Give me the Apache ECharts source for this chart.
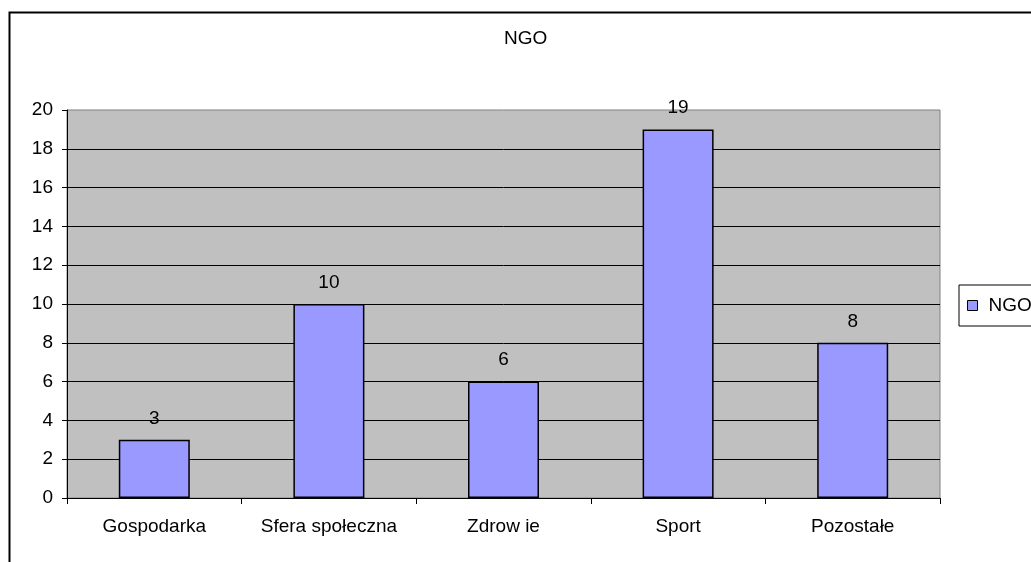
<!DOCTYPE html>
<html>
<head>
<meta charset="utf-8">
<script src="https://cdn.jsdelivr.net/npm/echarts@6/dist/echarts.min.js"></script>
<style>html,body{margin:0;padding:0;background:#fff;}#c{width:1031px;height:562px;}</style>
</head>
<body>
<div id="c"></div>
<script>
const categories = ['Gospodarka', 'Sfera społeczna', 'Zdrow ie', 'Sport', 'Pozostałe'];
const ngoValues = [3, 10, 6, 19, 8];
const seriesName = 'NGO';
const titleText = 'NGO';

const FONT = '"Liberation Sans", Arial, sans-serif';
const chart = echarts.init(document.getElementById('c'), null, {renderer: 'canvas'});
chart.setOption({
  animation: false,
  backgroundColor: '#fff',
  textStyle: {fontFamily: FONT},
  title: {
    text: titleText, left: 504, top: 29, padding: 0,
    textStyle: {fontFamily: FONT, fontSize: 19, fontWeight: 'normal', color: '#000'}
  },
  legend: {
    data: [seriesName], left: 959, top: 285, orient: 'vertical',
    padding: [11, 10, 11, 8],
    borderColor: '#000', borderWidth: 1,
    icon: 'rect', itemWidth: 10, itemHeight: 10,
    itemStyle: {borderColor: '#000', borderWidth: 1},
    textStyle: {fontFamily: FONT, fontSize: 19, color: '#000', padding: [0, 0, 0, 6]}
  },
  graphic: [{
    type: 'rect', left: 7, top: 10, z: 100, silent: true,
    shape: {x: 0, y: 0, width: 1100, height: 700},
    style: {fill: 'none', stroke: '#000', lineWidth: 2}
  }],
  grid: {
    left: 67, right: 91, top: 110, bottom: 64,
    show: true, backgroundColor: '#C0C0C0', borderColor: '#808080', borderWidth: 1
  },
  xAxis: {
    type: 'category', data: categories,
    axisLine: {lineStyle: {color: '#000', width: 1}},
    axisTick: {show: true, length: 6, lineStyle: {color: '#000'}},
    axisLabel: {interval: 0, hideOverlap: false, margin: 19, fontSize: 19, color: '#000', fontFamily: FONT}
  },
  yAxis: {
    type: 'value', min: 0, max: 20, interval: 2,
    axisLine: {show: true, lineStyle: {color: '#000', width: 1}},
    axisTick: {show: true, length: 5, lineStyle: {color: '#000'}},
    axisLabel: {margin: 14, fontSize: 19, color: '#000', fontFamily: FONT},
    splitLine: {show: true, showMaxLine: false, lineStyle: {color: '#000', width: 1}}
  },
  series: [{
    name: seriesName, type: 'bar', data: ngoValues, barWidth: 71,
    itemStyle: {color: '#9999FF', borderColor: '#000', borderWidth: 1.5},
    label: {show: true, position: 'top', distance: 12, fontSize: 19, color: '#000', fontFamily: FONT}
  }]
});
</script>
</body>
</html>
